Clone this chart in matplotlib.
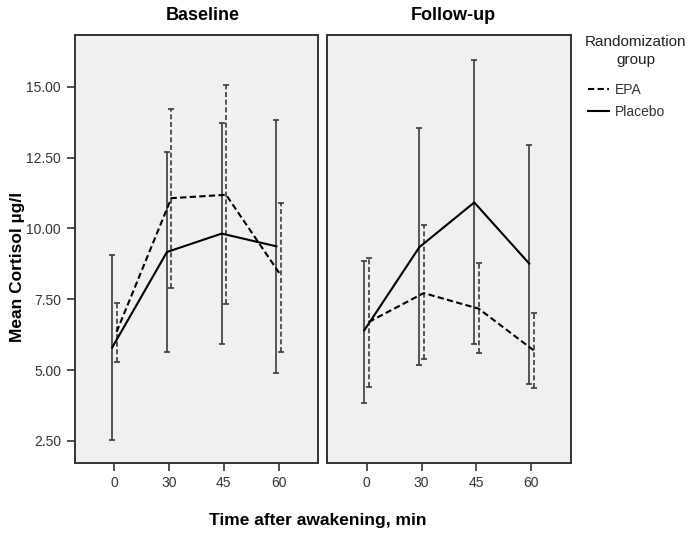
import numpy as np
import matplotlib.pyplot as plt

plt.rcParams['font.family'] = ['Liberation Sans', 'DejaVu Sans']

times = ['0', '30', '45', '60']

# Baseline panel
base_placebo = [5.80, 9.17, 9.82, 9.37]
base_placebo_lo = [2.54, 5.64, 5.94, 4.91]
base_placebo_hi = [9.05, 12.69, 13.72, 13.83]
base_epa = [6.35, 11.07, 11.19, 8.35]
base_epa_lo = [5.27, 7.91, 7.35, 5.63]
base_epa_hi = [7.38, 14.23, 15.06, 10.89]

# Follow-up panel
fu_placebo = [6.41, 9.34, 10.92, 8.76]
fu_placebo_lo = [3.83, 5.17, 5.94, 4.50]
fu_placebo_hi = [8.87, 13.53, 15.94, 12.95]
fu_epa = [6.70, 7.72, 7.17, 5.70]
fu_epa_lo = [4.41, 5.40, 5.62, 4.36]
fu_epa_hi = [8.97, 10.11, 8.78, 7.02]

yticks = [2.5, 5.0, 7.5, 10.0, 12.5, 15.0]

dash = (0, (3, 1.6))


def draw(ax, mean, lo, hi, off, dashed):
    x = np.arange(len(times)) + off
    m = np.array(mean)
    err = [m - np.array(lo), np.array(hi) - m]
    eb = ax.errorbar(x, m, yerr=err, color='black', ecolor='#3a3a3a',
                     lw=1.5, elinewidth=1.2, capsize=2, capthick=1.2,
                     ls=dash if dashed else '-')
    if dashed:
        eb.lines[2][0].set_linestyle(dash)
    return eb.lines[0]


fig = plt.figure(figsize=(6.93, 5.35), dpi=100)
ax1 = fig.add_axes([75/693, 1-462.5/535, 243/693, 427.5/535])
ax2 = fig.add_axes([327/693, 1-462.5/535, 244/693, 427.5/535], sharey=ax1)

draw(ax1, base_placebo, base_placebo_lo, base_placebo_hi, -0.04, False)
draw(ax1, base_epa, base_epa_lo, base_epa_hi, 0.04, True)
h_plac = draw(ax2, fu_placebo, fu_placebo_lo, fu_placebo_hi, -0.04, False)
h_epa = draw(ax2, fu_epa, fu_epa_lo, fu_epa_hi, 0.04, True)

for ax in (ax1, ax2):
    ax.set_facecolor('#f0f0f0')
    for s in ax.spines.values():
        s.set_color('#333333')
        s.set_linewidth(1.4)
    ax.set_xlim(-0.72, 3.72)
    ax.set_xticks(range(len(times)))
    ax.set_xticklabels(times)
    ax.tick_params(direction='out', length=6, width=1.2, color='#333333',
                   labelsize=10, labelcolor='#333333', pad=4)

ax1.set_ylim(1.74, 16.83)
ax1.set_yticks(yticks)
ax1.set_yticklabels(['%.2f' % v for v in yticks])
ax2.tick_params(axis='y', left=False, labelleft=False)

fig.text(203/693, 1-15/535, 'Baseline', ha='center', va='center',
         fontsize=13, fontweight='bold')
fig.text(453/693, 1-15/535, 'Follow-up', ha='center', va='center',
         fontsize=13, fontweight='bold')
fig.text(318/693, 1-520/535, 'Time after awakening, min', ha='center',
         va='center', fontsize=12.5, fontweight='bold')
fig.text(18/693, 1-267/535, 'Mean Cortisol µg/l', ha='center', va='center',
         rotation=90, fontsize=12.5, fontweight='bold')

# legend
fig.text(636/693, 1-51/535, 'Randomization\ngroup', ha='center', va='center',
         fontsize=11, color='#222222', linespacing=1.35)
leg = fig.legend([h_epa, h_plac], ['EPA', 'Placebo'], loc='upper left',
                 bbox_to_anchor=(588/693, 1-83/535), frameon=False,
                 fontsize=10, handlelength=1.5, handletextpad=0.45,
                 borderpad=0, borderaxespad=0, labelspacing=0.55)
for t in leg.get_texts():
    t.set_color('#333333')

fig.savefig('out.png', dpi=100)
